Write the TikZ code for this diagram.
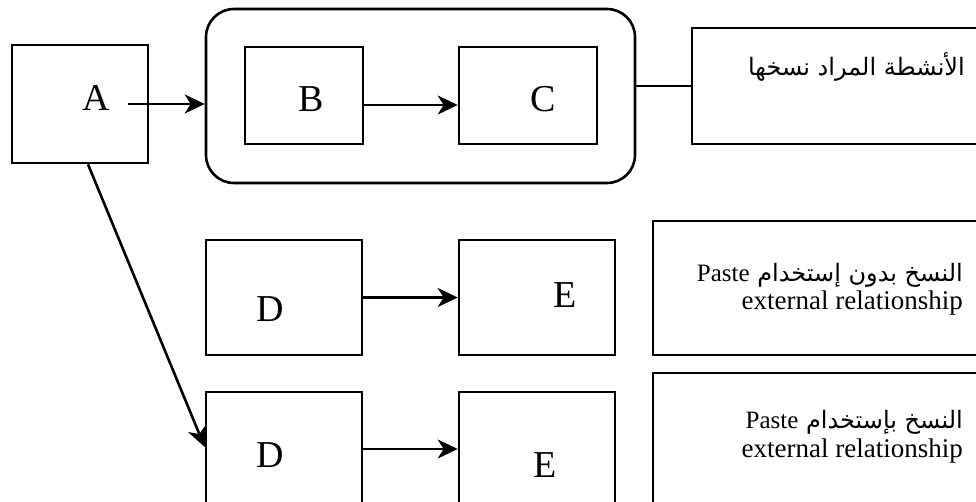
\documentclass[tikz,border=0pt]{standalone}
\usepackage{fontspec}
\setmainfont{Liberation Serif}
\newfontfamily\arabicfont[Script=Arabic]{DejaVu Sans}
\TeXXeTstate=1
\usetikzlibrary{arrows.meta}
\begin{document}
\begin{tikzpicture}[x=1pt,y=-1pt,
  box/.style={draw,line width=2.6pt,inner sep=0pt},
  arr/.style={line width=2.6pt,-{Stealth[length=20pt,width=19pt,inset=6pt]}},
  conn/.style={line width=2.6pt},
  big/.style={inner sep=0pt,font=\fontsize{38}{42}\selectfont},
  lat/.style={inner sep=0pt,font=\fontsize{27}{30}\selectfont},
  ara/.style={inner sep=0pt,font=\arabicfont\fontsize{24}{28}\selectfont},
  arb/.style={inner sep=0pt,font=\arabicfont\fontsize{24}{28}\selectfont}]
\path[use as bounding box,clip] (0,0) rectangle (976,502);
% boxes
\node[box,minimum width=136pt,minimum height=118pt] (A) at (80,104) {};
\node[box,rounded corners=28pt,minimum width=429pt,minimum height=174pt] (grp) at (420.5,96) {};
\node[box,minimum width=118pt,minimum height=97pt] (B) at (304,95.5) {};
\node[box,minimum width=138pt,minimum height=97pt] (C) at (528,95.5) {};
\node[box,minimum width=298pt,minimum height=116pt] (L1) at (841,86) {};
\node[box,minimum width=156pt,minimum height=115pt] (D1) at (284,297.5) {};
\node[box,minimum width=156pt,minimum height=115pt] (E1) at (537,297.5) {};
\node[box,minimum width=337pt,minimum height=134pt] (L2) at (821.5,288) {};
\node[box,minimum width=156pt,minimum height=118pt] (D2) at (284,451) {};
\node[box,minimum width=156pt,minimum height=118pt] (E2) at (537,451) {};
\node[box,minimum width=337pt,minimum height=137pt] (L3) at (821.5,441.5) {};
% letters
\node[big] (tA) at (96,98) {A};
\node[big] (tB) at (311,99) {B};
\node[big] (tC) at (543,99) {C};
\node[big] (tD1) at (270,309) {D};
\node[big] (tE1) at (565,295) {E};
\node[big] (tD2) at (270,455) {D};
\node[big] (tE2) at (545,465) {E};
% labels
\node[ara,anchor=base east] (l1) at (965,76) {\beginR الأنشطة المراد نسخها\endR};
\node[arb,anchor=base east] (l2a) at (963,282) {\beginR النسخ بدون  إستخدام {\rmfamily\fontsize{25}{28}\selectfont\beginL Paste\endL}\endR};
\node[lat,anchor=base east] (l2b) at (963,309) {external relationship};
\node[arb,anchor=base east] (l3a) at (963,428) {\beginR النسخ بإستخدام {\rmfamily\fontsize{25}{28}\selectfont\beginL Paste\endL}\endR};
\node[lat,anchor=base east] (l3b) at (963,457) {external relationship};
% connectors
\coordinate (a1) at (128,104);
\draw[arr] (a1) -- (a1 -| grp.west);
\draw[arr] ([yshift=-9.5pt]B.east) -- ([yshift=-9.5pt]B.east -| C.west);
\draw[conn] (grp.east |- L1.west) -- (L1.west);
\draw[arr] (D1.east) -- (E1.west);
\draw[arr] ([yshift=2pt]D2.east) -- ([yshift=2pt]D2.east -| E2.west);
\draw[arr] ([xshift=8pt]A.south) -- ([yshift=4pt]D2.west);
\end{tikzpicture}
\end{document}
